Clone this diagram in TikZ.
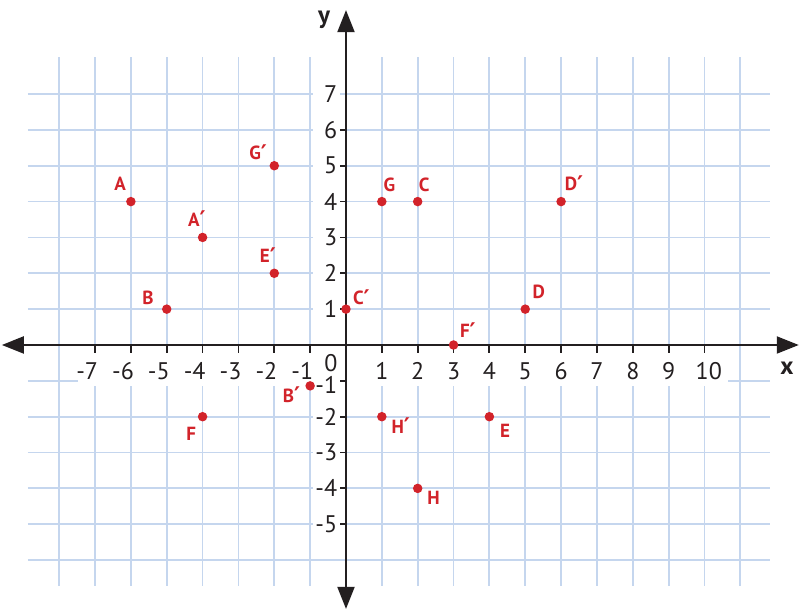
\documentclass[tikz,border=0pt]{standalone}
\usepackage{fontspec}
\setmainfont{PT Sans}
\newfontfamily\primefont{DejaVu Sans}
\newcommand{\prm}{{\primefont\fontsize{23}{23}\selectfont\raisebox{-1.5pt}{\char"2032}}}
\usetikzlibrary{arrows.meta}
\definecolor{gridblue}{HTML}{C5D6EE}
\definecolor{ptred}{HTML}{D2232A}
\definecolor{axisgray}{HTML}{231F20}
\begin{document}
\begin{tikzpicture}[x=35.85pt,y=35.85pt,
  gridline/.style={gridblue,line width=1.8pt},
  axisline/.style={axisgray,line width=2pt,{Triangle[length=22pt,width=17pt]}-{Triangle[length=22pt,width=17pt]}},
  tickline/.style={axisgray,line width=1.8pt},
  numlabel/.style={text=axisgray,font=\fontsize{24}{24}\selectfont,inner sep=0pt},
  axlabel/.style={text=axisgray,font=\fontsize{25}{25}\selectfont\bfseries,inner sep=0pt},
  ptdot/.style={circle,fill=ptred,inner sep=0pt,minimum size=9.5pt},
  ptlabel/.style={text=ptred,font=\fontsize{19}{19}\selectfont\bfseries,inner sep=0pt}]
\useasboundingbox (-9.651,-7.392) rectangle (12.664,9.623);
\fill[white] (-9.651,-7.392) rectangle (12.664,9.623);
% grid
\foreach \x in {-8,...,-1,1,2,...,11} \draw[gridline] (\x,-6.72) -- (\x,8.03);
\foreach \y in {-6,...,-1,1,2,...,7} \draw[gridline] (-8.87,\y) -- (11.83,\y);
% white label bands
\fill[white] (-7.48,0) rectangle (10.66,-1.14);
\fill[white] (-0.92,-5.5) rectangle (-0.17,7.5);
% axes
\coordinate (xl) at (-9.6,0);
\coordinate (xr) at (12.63,0);
\coordinate (yb) at (0,-7.36);
\coordinate (yt) at (0,9.34);
\draw[axisline] (xl) -- (xr);
\draw[axisline] (yb) -- (yt);
% ticks
\foreach \x in {-7,...,-1,1,2,...,10} \draw[tickline] (\x,0) -- (\x,-0.21);
\foreach \y in {-5,...,-1,1,2,...,6} \draw[tickline] (0,\y) -- (-0.17,\y);
% x labels
\foreach \x in {-7,...,-1} \node[numlabel] (xn\x) at (\x-0.22,-0.725) {-\the\numexpr-\x\relax};
\foreach \x in {1,...,9} \node[numlabel] (xp\x) at (\x,-0.725) {\x};
\node[numlabel] (xp10) at (10.12,-0.725) {10};
\node[numlabel] (zero) at (-0.42,-0.51) {0};
% y labels
\foreach \y in {1,...,7} \node[numlabel,anchor=east] (yp\y) at (-0.24,\y) {\y};
\node[numlabel,anchor=east] (yn1) at (-0.24,-1.12) {-1};
\foreach \y in {2,...,5} \node[numlabel,anchor=east] (yn\y) at (-0.24,-\y) {-\y};
% axis names
\node[axlabel] (xname) at (12.30,-0.64) {x};
\node[axlabel] (yname) at (-0.61,9.07) {y};
% points
\node[ptdot] (A) at (-6,4) {};
\node[ptdot] (Ap) at (-4,3) {};
\node[ptdot] (Ep) at (-2,2) {};
\node[ptdot] (Gp) at (-2,5) {};
\node[ptdot] (B) at (-5,1) {};
\node[ptdot] (G) at (1,4) {};
\node[ptdot] (C) at (2,4) {};
\node[ptdot] (Dp) at (6,4) {};
\node[ptdot] (Cp) at (0,1) {};
\node[ptdot] (D) at (5,1) {};
\node[ptdot] (Fp) at (3,0) {};
\node[ptdot] (Bp) at (-1,-1.14) {};
\node[ptdot] (F) at (-4,-2) {};
\node[ptdot] (Hp) at (1,-2) {};
\node[ptdot] (E) at (4,-2) {};
\node[ptdot] (H) at (2,-4) {};
% point labels
\node[ptlabel] (lA) at (-6.30,4.49) {A};
\node[ptlabel] (lAp) at (-4.16,3.51) {A\prm};
\node[ptlabel] (lEp) at (-2.18,2.48) {E\prm};
\node[ptlabel] (lGp) at (-2.45,5.36) {G\prm};
\node[ptlabel] (lB) at (-5.52,1.31) {B};
\node[ptlabel] (lG) at (1.21,4.48) {G};
\node[ptlabel] (lC) at (2.18,4.48) {C};
\node[ptlabel] (lDp) at (6.36,4.49) {D\prm};
\node[ptlabel] (lCp) at (0.43,1.32) {C\prm};
\node[ptlabel] (lD) at (5.38,1.48) {D};
\node[ptlabel] (lFp) at (3.40,0.40) {F\prm};
\node[ptlabel] (lBp) at (-1.52,-1.41) {B\prm};
\node[ptlabel] (lF) at (-4.32,-2.48) {F};
\node[ptlabel] (lHp) at (1.53,-2.27) {H\prm};
\node[ptlabel] (lE) at (4.44,-2.40) {E};
\node[ptlabel] (lH) at (2.44,-4.25) {H};
\end{tikzpicture}
\end{document}
